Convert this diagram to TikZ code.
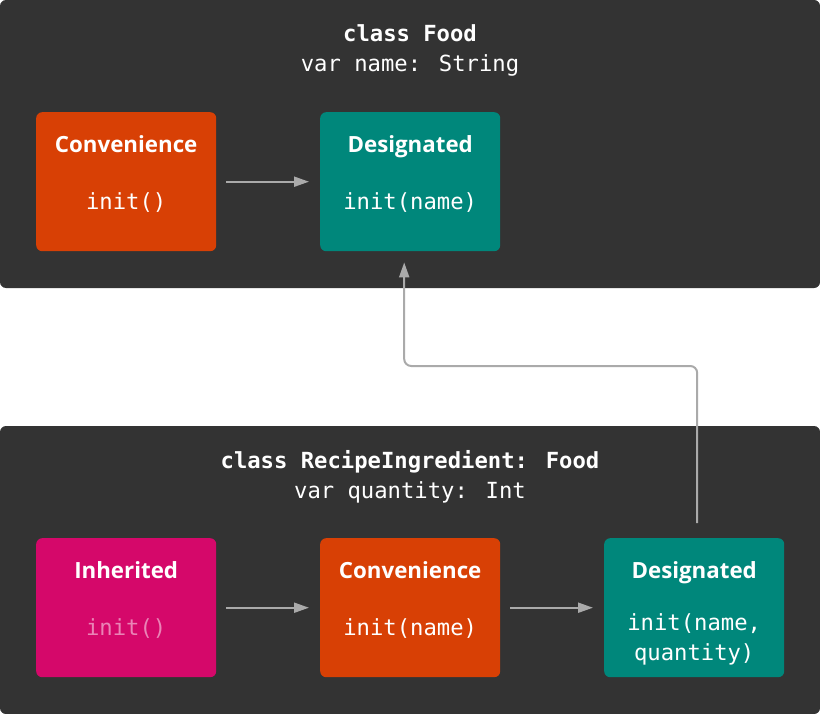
\documentclass[tikz,border=0pt]{standalone}
\usepackage{fontspec}
\setmainfont{Open Sans}
\newfontfamily\codefont{DejaVu Sans Mono}
\usetikzlibrary{arrows.meta}
\definecolor{panelbg}{HTML}{333333}
\definecolor{convcol}{HTML}{D84005}
\definecolor{desigcol}{HTML}{00877B}
\definecolor{inhcol}{HTML}{D5086A}
\definecolor{arrowcol}{HTML}{AAAAAA}
\definecolor{fadedtext}{HTML}{EA84B6}
\tikzset{
  panel/.style={fill=panelbg, rounded corners=6bp, draw=none},
  initbox/.style={rounded corners=6bp, draw=none, minimum width=180bp, minimum height=139bp, inner sep=0pt, anchor=north west},
  boxtitle/.style={text=white, font=\fontsize{22.3bp}{24bp}\selectfont\bfseries, anchor=base, inner sep=0pt},
  boxcode/.style={text=white, font=\codefont\fontsize{22.2bp}{30bp}\selectfont, anchor=base, inner sep=0pt, align=center},
  classtitle/.style={text=white, font=\codefont\bfseries\fontsize{22.2bp}{24bp}\selectfont, anchor=base, inner sep=0pt},
  classvar/.style={text=white, font=\codefont\fontsize{22.2bp}{24bp}\selectfont, anchor=base, inner sep=0pt},
  flow/.style={draw=arrowcol, line width=2bp, -{Triangle[length=15bp,width=10bp]}},
}
\begin{document}
\begin{tikzpicture}[x=1bp, y=-1bp]
\useasboundingbox (0,0) rectangle (820,714);
% panels
\path[panel] (0,0) rectangle (820,288);
\path[panel] (0,426) rectangle (820,714);
% top class
\node[classtitle] (tt) at (410,42) {class Food};
\node[classvar] (tv) at (410,72) {var name: String};
\node[initbox, fill=convcol] (tconv) at (36,112) {};
\node[boxtitle] (tconvt) at ([yshift=-40bp]tconv.north) {Convenience};
\node[boxcode] (tconvc) at ([yshift=-97bp]tconv.north) {init()};
\node[initbox, fill=desigcol] (tdes) at (320,112) {};
\node[boxtitle] (tdest) at ([yshift=-40bp]tdes.north) {Designated};
\node[boxcode] (tdesc) at ([yshift=-97bp]tdes.north) {init(name)};
% bottom class
\node[classtitle] (bt) at (410,468) {class RecipeIngredient: Food};
\node[classvar] (bv) at (410,498) {var quantity: Int};
\node[initbox, fill=inhcol] (binh) at (36,538) {};
\node[boxtitle] (binht) at ([yshift=-40bp]binh.north) {Inherited};
\node[boxcode, text=fadedtext] (binhc) at ([yshift=-97bp]binh.north) {init()};
\node[initbox, fill=convcol] (bconv) at (320,538) {};
\node[boxtitle] (bconvt) at ([yshift=-40bp]bconv.north) {Convenience};
\node[boxcode] (bconvc) at ([yshift=-97bp]bconv.north) {init(name)};
\node[initbox, fill=desigcol] (bdes) at (604,538) {};
\node[boxtitle] (bdest) at ([yshift=-40bp]bdes.north) {Designated};
\node[boxcode, anchor=north] (bdesc) at ([yshift=-75bp]bdes.north) {init(name,\\quantity)};
% connectors
\draw[flow, shorten <=10bp, shorten >=11bp] (tconv.east) -- (tdes.west);
\draw[flow, shorten <=10bp, shorten >=11bp] (binh.east) -- (bconv.west);
\draw[flow, shorten <=10bp, shorten >=11bp] (bconv.east) -- (bdes.west);
\coordinate (upstart) at ([xshift=3bp, yshift=15bp]bdes.north);
\coordinate (upend) at ([xshift=-6bp, yshift=-11bp]tdes.south);
\draw[flow, rounded corners=7bp] (upstart) -- (upstart |- 0,366) -- (upend |- 0,366) -- (upend);
\end{tikzpicture}
\end{document}
